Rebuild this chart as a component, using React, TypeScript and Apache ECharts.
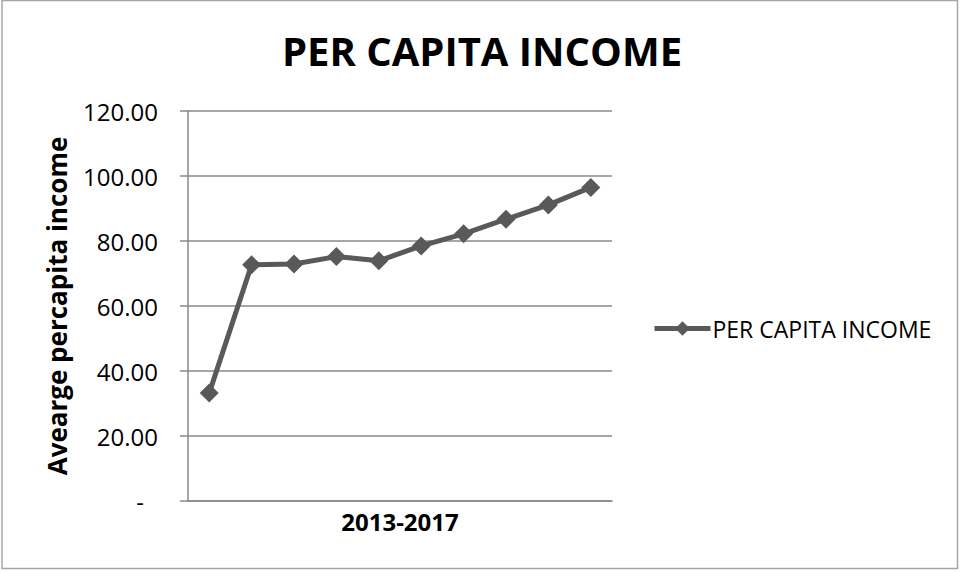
import React, { useEffect, useRef } from "react";
import * as echarts from "echarts";

const categories = ["1", "2", "3", "4", "5", "6", "7", "8", "9", "10"];
const incomeValues = [33.2, 72.7, 72.9, 75.2, 73.9, 78.5, 82.2, 86.7, 91.1, 96.5];
const seriesName = "PER CAPITA INCOME";
const titleText = "PER CAPITA INCOME";
const xAxisName = "2013-2017";
const yAxisName = "Avearge percapita income";

export default function App() {
  const ref = useRef<HTMLDivElement>(null);
  useEffect(() => {
    document.body.style.margin = "0";
    const chart = echarts.init(ref.current!, null, { renderer: "svg" });
    chart.setOption({
      animation: false,
      backgroundColor: "#ffffff",
      textStyle: { fontFamily: "Open Sans" },
      title: {
        text: titleText,
        left: 477,
        textAlign: "center",
        top: 25,
        textStyle: { fontFamily: "Open Sans", fontWeight: "bold", fontSize: 40, color: "#000" },
      },
      graphic: [
        {
          type: "rect",
          shape: { x: 2, y: 0.5, width: 955.5, height: 568 },
          style: { fill: "none", stroke: "#a6a6a6", lineWidth: 1.5 },
          silent: true,
        },
      ],
      legend: {
        left: 652,
        top: 317,
        padding: 0,
        itemWidth: 56,
        itemHeight: 18,
        itemGap: 4,
        lineStyle: { width: 5, color: "#595959" },
        itemStyle: { color: "#595959" },
        textStyle: { fontFamily: "Open Sans", fontSize: 23, color: "#000", padding: [0, 0, 0, -3] },
        data: [seriesName],
      },
      grid: { left: 188, right: 348, top: 111, bottom: 71 },
      xAxis: {
        type: "category",
        data: categories,
        boundaryGap: true,
        name: xAxisName,
        nameLocation: "middle",
        nameGap: 8,
        nameTextStyle: { fontFamily: "Open Sans", fontWeight: "bold", fontSize: 24, color: "#000", verticalAlign: "top" },
        axisLine: { lineStyle: { color: "#888", width: 1.5 } },
        axisTick: { show: false },
        axisLabel: { show: false },
      },
      yAxis: {
        type: "value",
        min: 0,
        max: 120,
        interval: 20,
        name: yAxisName,
        nameLocation: "middle",
        nameGap: 118,
        nameTextStyle: { fontFamily: "Open Sans", fontWeight: "bold", fontSize: 26, color: "#000" },
        axisLine: { show: true, lineStyle: { color: "#888", width: 1.5 } },
        axisTick: { show: true, length: 8, lineStyle: { color: "#888", width: 1.5 } },
        splitLine: { lineStyle: { color: "#888", width: 1.5 } },
        axisLabel: {
          margin: 30,
          fontFamily: "Open Sans",
          fontSize: 24,
          color: "#000",
          formatter: (v: number) => (v === 0 ? "{d|-}" : v.toFixed(2)),
          rich: { d: { fontFamily: "Open Sans", fontSize: 24, color: "#000", padding: [0, 14, 0, 0] } },
        },
      },
      series: [
        {
          name: seriesName,
          type: "line",
          data: incomeValues,
          symbol: "diamond",
          symbolSize: 19,
          lineStyle: { color: "#595959", width: 5 },
          itemStyle: { color: "#595959" },
        },
      ],
    });
    return () => chart.dispose();
  }, []);
  return <div ref={ref} style={{ width: 960, height: 572 }} />;
}
